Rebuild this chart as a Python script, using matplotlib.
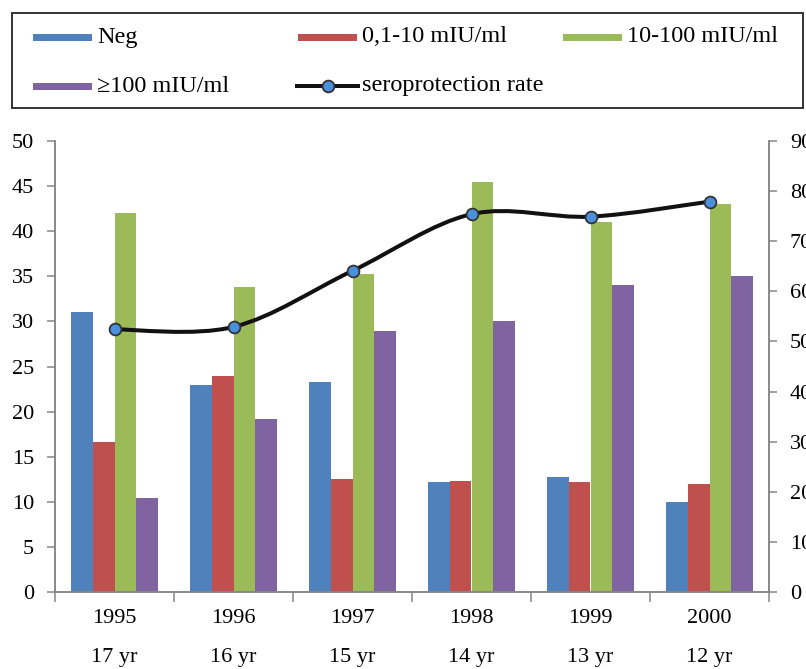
import numpy as np
import matplotlib
matplotlib.use('Agg')
import matplotlib.pyplot as plt
from matplotlib.path import Path
from matplotlib.patches import PathPatch, Rectangle
from matplotlib.lines import Line2D
import matplotlib.transforms as mtransforms

anos = ['1995', '1996', '1997', '1998', '1999', '2000']
idades = ['17 yr', '16 yr', '15 yr', '14 yr', '13 yr', '12 yr']

neg = [31.0, 23.0, 23.3, 12.2, 12.8, 10.0]
baixo = [16.6, 23.9, 12.5, 12.3, 12.2, 12.0]
medio = [42.0, 33.8, 35.3, 45.5, 41.0, 43.0]
alto = [10.4, 19.2, 28.9, 30.0, 34.0, 35.0]
taxa = [52.4, 52.9, 64.1, 75.4, 74.9, 77.9]

nomes = ['Neg', '0,1-10 mIU/ml', '10-100 mIU/ml', '\u2265100 mIU/ml']
cores = ['#4F81BD', '#C0504D', '#9BBB59', '#8064A2']
cinza = '#868686'

plt.rcParams['font.family'] = ['Liberation Serif', 'DejaVu Serif']

fig = plt.figure(figsize=(8.06, 6.69), dpi=100)
W, H = 806, 669
ax = fig.add_axes([55 / W, (H - 592) / H, (769 - 55) / W, (592 - 141) / H])
ax2 = ax.twinx()

x = np.arange(len(anos))
largura = 0.182
series = [neg, baixo, medio, alto]
for k, (vals, cor) in enumerate(zip(series, cores)):
    ax.bar(x + (k - 1.5) * largura, vals, largura, color=cor, linewidth=0, zorder=2)

ax.set_xlim(-0.5, len(anos) - 0.5)
ax.set_ylim(0, 50)
ax.set_yticks(range(0, 51, 5))
ax2.set_ylim(0, 90)
ax2.set_yticks(range(0, 91, 10))

ax.set_xticks(x, anos)
ax.set_xticks(np.arange(-0.5, len(anos), 1), minor=True)
ax.tick_params(axis='x', which='major', length=0, pad=12, labelsize=16)
ax.tick_params(axis='x', which='minor', length=7, width=1.1, color=cinza, direction='out')
ax.tick_params(axis='y', length=6, width=1.1, color=cinza, pad=9, labelsize=16)
ax2.tick_params(axis='y', length=6, width=1.1, color=cinza, pad=9, labelsize=16)

trans = mtransforms.blended_transform_factory(ax.transData, ax.transAxes)
for i, idade in enumerate(idades):
    ax.text(i, -0.146, idade, transform=trans, ha='center', va='center', fontsize=16)

for a in (ax, ax2):
    a.spines['top'].set_visible(False)
    for s in ('left', 'right', 'bottom'):
        a.spines[s].set_color(cinza)
        a.spines[s].set_linewidth(1.1)

# curva suavizada (estilo Excel) pelos pontos da taxa
pts = np.column_stack([x, taxa]).astype(float)
ext = np.vstack([pts[0], pts, pts[-1]])
verts = [pts[0]]
codes = [Path.MOVETO]
for i in range(len(pts) - 1):
    p0, p1, p2, p3 = ext[i], ext[i + 1], ext[i + 2], ext[i + 3]
    c1 = p1 + (p2 - p0) / 6
    c2 = p2 - (p3 - p1) / 6
    verts += [c1, c2, p2]
    codes += [Path.CURVE4] * 3
ax2.add_patch(PathPatch(Path(verts, codes), fill=False, edgecolor='#111111', linewidth=2.9,
                        transform=ax2.transData, zorder=3))
ax2.plot(x, taxa, 'o', color='#4A90DD', markeredgecolor='#333333', markeredgewidth=1.3,
         markersize=8.5, zorder=4)

# legenda
lax = fig.add_axes([0, 0, 1, 1])
lax.set_xlim(0, W)
lax.set_ylim(H, 0)
lax.axis('off')
lax.add_patch(Rectangle((12, 13), 791, 95, fill=False, edgecolor='#333333', linewidth=1.4))
posicoes = [(33, 37), (298, 37), (563, 37), (33, 86)]
for (px, py), cor, nome in zip(posicoes, cores, nomes):
    lax.add_patch(Rectangle((px, py - 3.5), 59, 7, color=cor, linewidth=0))
    lax.text(px + 64, py, nome, va='center', ha='left', fontsize=17.5)
lax.add_line(Line2D([297, 358], [86, 86], color='#111111', linewidth=2.9))
lax.plot([328], [86], 'o', color='#4A90DD', markeredgecolor='#333333', markeredgewidth=1.3,
         markersize=8.5)
lax.text(362, 86, 'seroprotection rate', va='center', ha='left', fontsize=17.5)

fig.savefig('out.png', dpi=100)
